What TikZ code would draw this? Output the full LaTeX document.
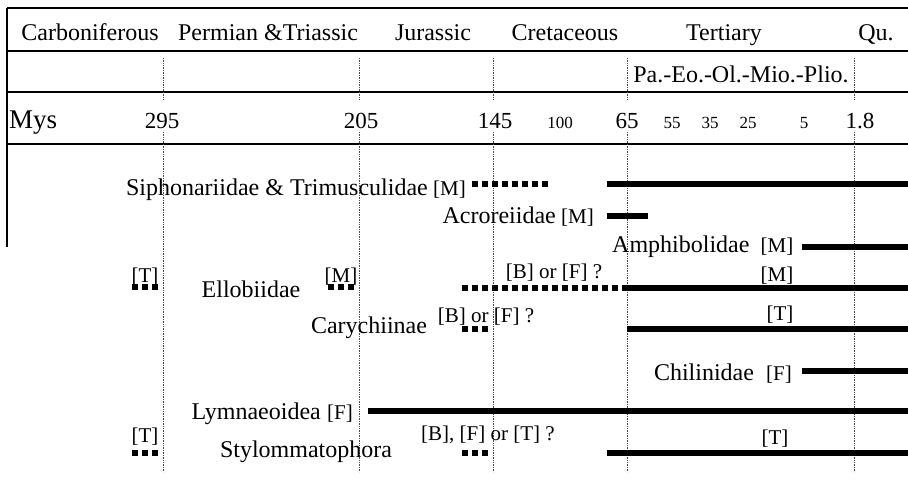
\documentclass[tikz,border=0pt]{standalone}
\usepackage{fontspec}
\setmainfont{Liberation Serif}
\usetikzlibrary{positioning}

\begin{document}
\begin{tikzpicture}[x=1pt, y=-1pt,
    head/.style={inner sep=0pt, font=\fontsize{24}{28}\selectfont},
    bignum/.style={inner sep=0pt, font=\fontsize{23}{27}\selectfont},
    smallnum/.style={inner sep=0pt, font=\fontsize{17}{20}\selectfont},
    taxon/.style={inner sep=0pt, font=\fontsize{24}{28}\selectfont},
    habitat/.style={inner sep=0pt, font=\fontsize{21}{25}\selectfont},
    rule/.style={line width=1.5pt},
    epoch/.style={black!70, densely dotted, line width=0.7pt},
    record/.style={line width=5.5pt},
    guess/.style={line width=5.5pt, dash pattern=on 5.5pt off 4.5pt}
]
\useasboundingbox (0,0) rectangle (908,480);

% Table frame
\draw[rule] (7,8) -- (908,8);
\draw[rule] (7,51) -- (908,51);
\draw[rule] (7,92) -- (908,92);
\draw[rule] (7,144) -- (908,144);
\draw[line width=1.2pt] (7,8) -- (7,247);

% Period boundaries
\foreach \x in {163,359,493,627,854} {
    \draw[epoch] (\x,58) -- (\x,100);
    \draw[epoch] (\x,132) -- (\x,472);
}

% Periods
\node[head, anchor=base] (carb) at (90,40) {Carboniferous};
\node[head, anchor=base] (perm) at (268,40) {Permian \&Triassic};
\node[head, anchor=base] (jura) at (433,40) {Jurassic};
\node[head, anchor=base] (cret) at (565,40) {Cretaceous};
\node[head, anchor=base] (tert) at (724,40) {Tertiary};
\node[head, anchor=base] (quat) at (876,40) {Qu.};
\node[head, anchor=base] (epochs) at (741,82) {Pa.-Eo.-Ol.-Mio.-Plio.};

% Ages
\node[head, anchor=base west, font=\fontsize{27}{30}\selectfont] (mys) at (9,128) {Mys};
\node[bignum, anchor=base] (m295) at (162,128) {295};
\node[bignum, anchor=base] (m205) at (361,128) {205};
\node[bignum, anchor=base] (m145) at (495,128) {145};
\node[smallnum, anchor=base] (m100) at (560,128) {100};
\node[bignum, anchor=base] (m65) at (627,128) {65};
\node[smallnum, anchor=base] (m55) at (672,128) {55};
\node[smallnum, anchor=base] (m35) at (710,128) {35};
\node[smallnum, anchor=base] (m25) at (748,128) {25};
\node[smallnum, anchor=base] (m5) at (804,128) {5};
\node[bignum, anchor=base] (m18) at (860,128) {1.8};

% Siphonariidae & Trimusculidae
\node[taxon, anchor=base east] (siph) at (428,195) {Siphonariidae \& Trimusculidae};
\node[habitat, anchor=base west] (siphM) at ([xshift=5pt]siph.base east) {[M]};
\coordinate (siphA) at (472,184);
\coordinate (siphB) at (551,184);
\coordinate (siphC) at (607,184);
\coordinate (siphD) at (908,184);
\draw[guess] (siphA) -- (siphB);
\draw[record] (siphC) -- (siphD);

% Acroreiidae
\node[taxon, anchor=base east] (acro) at (556,223) {Acroreiidae};
\node[habitat, anchor=base west] (acroM) at ([xshift=5pt]acro.base east) {[M]};
\coordinate (acroA) at (607,216);
\coordinate (acroB) at (648,216);
\draw[record] (acroA) -- (acroB);

% Amphibolidae
\node[taxon, anchor=base west] (amph) at (612,252) {Amphibolidae};
\node[habitat, anchor=base] (amphM) at (777,252) {[M]};
\coordinate (amphA) at (802,247);
\coordinate (amphB) at (908,247);
\draw[record] (amphA) -- (amphB);

% Ellobiidae
\node[taxon, anchor=base] (ello) at (251,297) {Ellobiidae};
\node[habitat, anchor=base] (elloT) at (145,282) {[T]};
\node[habitat, anchor=base] (elloM) at (341,282) {[M]};
\node[habitat, anchor=base] (elloBF) at (554,278) {[B] or [F] ?};
\node[habitat, anchor=base] (elloM2) at (777,281) {[M]};
\coordinate (elloA) at (132,287);
\coordinate (elloB) at (158,287);
\coordinate (elloC) at (328,287);
\coordinate (elloD) at (355,287);
\coordinate (elloE) at (462,288);
\coordinate (elloF) at (624,288);
\coordinate (elloG) at (908,288);
\draw[guess] (elloA) -- (elloB);
\draw[guess] (elloC) -- (elloD);
\draw[guess] (elloE) -- (elloF);
\draw[record] (elloF) -- (elloG);

% Carychiinae
\node[taxon, anchor=base] (cary) at (369,333) {Carychiinae};
\node[habitat, anchor=base] (caryBF) at (486,322) {[B] or [F] ?};
\node[habitat, anchor=base] (caryT) at (780,320) {[T]};
\coordinate (caryA) at (462,329);
\coordinate (caryB) at (488,329);
\coordinate (caryC) at (627,329);
\coordinate (caryD) at (908,329);
\draw[guess] (caryA) -- (caryB);
\draw[record] (caryC) -- (caryD);

% Chilinidae
\node[taxon, anchor=base] (chil) at (704,380) {Chilinidae};
\node[habitat, anchor=base] (chilF) at (779,380) {[F]};
\coordinate (chilA) at (802,371);
\coordinate (chilB) at (908,371);
\draw[record] (chilA) -- (chilB);

% Lymnaeoidea
\node[taxon, anchor=base east] (lymn) at (321,419) {Lymnaeoidea};
\node[habitat, anchor=base west] (lymnF) at ([xshift=6pt]lymn.base east) {[F]};
\coordinate (lymnA) at (368,411);
\coordinate (lymnB) at (908,411);
\draw[record] (lymnA) -- (lymnB);

% Stylommatophora
\node[taxon, anchor=base] (styl) at (306,457) {Stylommatophora};
\node[habitat, anchor=base] (stylT) at (145,442) {[T]};
\node[habitat, anchor=base] (stylBFT) at (488,440) {[B], [F] or [T] ?};
\node[habitat, anchor=base] (stylT2) at (775,444) {[T]};
\coordinate (stylA) at (132,453);
\coordinate (stylB) at (158,453);
\coordinate (stylC) at (462,453);
\coordinate (stylD) at (488,453);
\coordinate (stylE) at (607,453);
\coordinate (stylF) at (908,453);
\draw[guess] (stylA) -- (stylB);
\draw[guess] (stylC) -- (stylD);
\draw[record] (stylE) -- (stylF);

\end{tikzpicture}
\end{document}
